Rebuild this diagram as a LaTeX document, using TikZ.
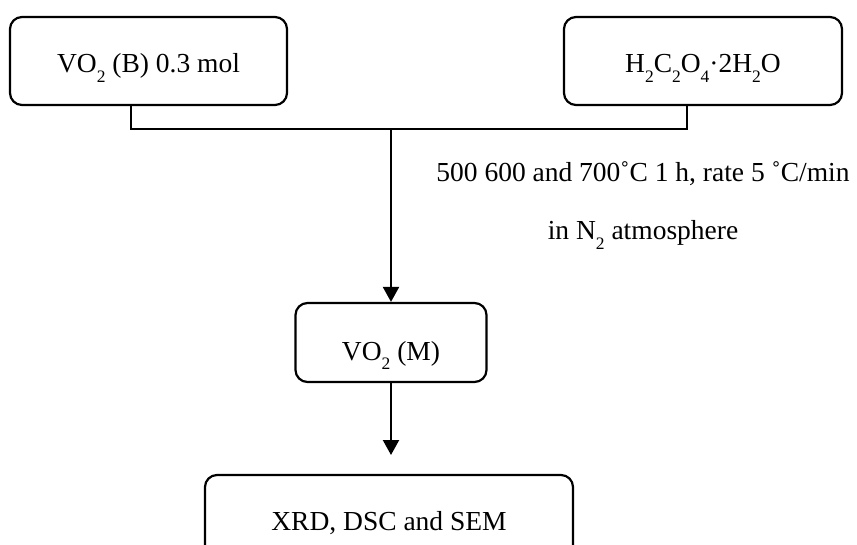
\documentclass[tikz,border=0pt]{standalone}
\usepackage{fontspec}
\setmainfont{Liberation Serif}
\usetikzlibrary{arrows.meta}
% lowered subscript in the style of a word processor
\newcommand\lowsub[1]{\raisebox{-9.5pt}{\fontsize{17.5}{18}\selectfont #1}}
\tikzset{
  flowbox/.style={draw, line width=2.2pt, rounded corners=12pt, align=center,
    font=\fontsize{27.5}{32}\selectfont, inner sep=0pt, text depth=0pt},
  flowline/.style={line width=2.2pt},
  flowarrow/.style={line width=2.2pt, -{Triangle[width=16pt,length=15pt]}},
  note/.style={font=\fontsize{27.5}{32}\selectfont, inner sep=0pt, anchor=base}
}
\begin{document}
\begin{tikzpicture}[x=1pt,y=-1pt]
  \useasboundingbox (0,0) rectangle (857,545);
  \clip (0,0) rectangle (857,545);

  \node[flowbox, minimum width=277pt, minimum height=88pt, text height=24pt]
    (vob) at (148.5,61) {VO\lowsub{2} (B) 0.3 mol};
  \node[flowbox, minimum width=278pt, minimum height=88pt, text height=24pt]
    (oxa) at (703,61) {H\lowsub{2}C\lowsub{2}O\lowsub{4}·2H\lowsub{2}O};
  \node[flowbox, minimum width=191pt, minimum height=79pt, text height=35pt]
    (vom) at (391,342.5) {VO\lowsub{2} (M)};
  \node[flowbox, minimum width=368pt, minimum height=90pt, text height=20pt]
    (ana) at (389,520) {XRD, DSC and SEM};

  \coordinate (jl) at (131,129);
  \coordinate (jr) at (687,129);
  \coordinate (jm) at (391,129);

  \draw[flowline] (vob.south -| jl) -- (jl) -- (jr) -- (oxa.south -| jr);
  \draw[flowarrow] (jm) -- (vom.north);
  \draw[flowarrow] (vom.south) -- (391,455) coordinate (tip);

  \node[note] (cond) at (643,181.5) {500 600 and 700˚C 1 h, rate 5 ˚C/min};
  \node[note] (atm) at (643,240) {in N\lowsub{2} atmosphere};
\end{tikzpicture}
\end{document}
